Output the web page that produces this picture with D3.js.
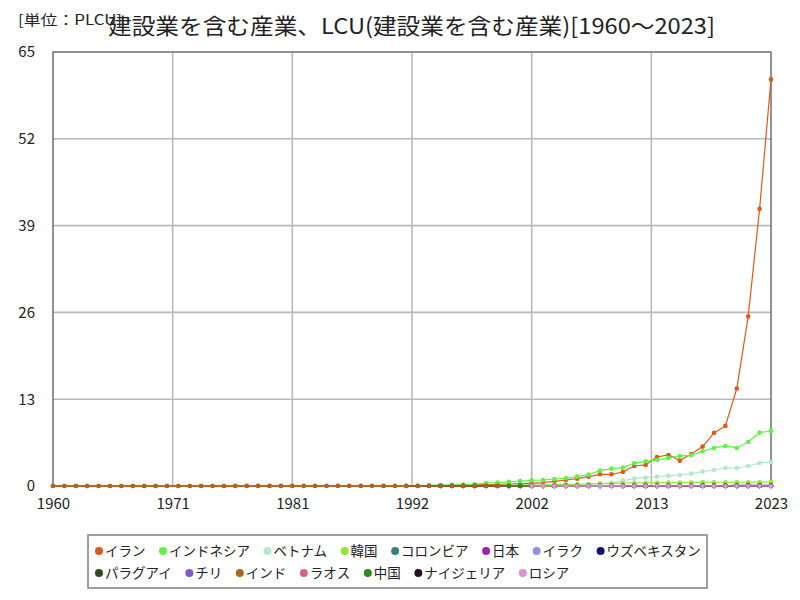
<!DOCTYPE html>
<html>
<head>
<meta charset="utf-8">
<script src="https://cdn.jsdelivr.net/npm/d3@7"></script>
<style>
  body { margin: 0; background: #fff; }
  svg text { font-family: "Noto Sans CJK JP", "Noto Sans", sans-serif; }
</style>
</head>
<body>
<svg id="chart"></svg>
<script>
const d3 = window.d3

// chart data
const countries = ['イラン', 'インドネシア', 'ベトナム', '韓国', 'コロンビア', '日本', 'イラク', 'ウズベキスタン',
  'パラグアイ', 'チリ', 'インド', 'ラオス', '中国', 'ナイジェリア', 'ロシア']
const colors = ['#e0581c', '#5cf542', '#b4e8c8', '#8ee832', '#3c7c7c', '#a020b0', '#9090e0', '#14146e',
  '#2d4a1e', '#7a5ad0', '#b0661a', '#d06a7a', '#2a8a1e', '#2a0a2a', '#e090d8']
const startYears = [1960, 1993, 2000, 1994, 1994, 1994, 2004, 2000, 1991, 2003, 1960, 2000, 2000, 2010, 2002]

const iran = [0.001, 0.001, 0.001, 0.001, 0.001, 0.001, 0.002, 0.002, 0.002, 0.002,
  0.003, 0.003, 0.004, 0.005, 0.008, 0.011, 0.014, 0.017, 0.016, 0.014,
  0.015, 0.017, 0.02, 0.024, 0.026, 0.027, 0.028, 0.031, 0.033, 0.038,
  0.02, 0.03, 0.04, 0.05, 0.07, 0.1, 0.13, 0.17, 0.2, 0.25,
  0.3, 0.35, 0.4, 0.5, 0.7, 0.9, 1.1, 1.4, 1.75, 1.75,
  2.1, 3.0, 3.15, 4.35, 4.65, 3.8, 4.8, 5.9, 7.95, 9.0,
  14.6, 25.4, 41.5, 60.9]
const indonesia = [0.12, 0.14, 0.17, 0.2, 0.25, 0.45, 0.5, 0.62, 0.75, 0.85,
  0.9, 1.05, 1.15, 1.4, 1.7, 2.3, 2.6, 2.75, 3.4, 3.7,
  3.9, 4.2, 4.5, 4.6, 5.2, 5.7, 6.0, 5.7, 6.6, 8.0, 8.25]
const vietnam = [0.08, 0.09, 0.1, 0.12, 0.14, 0.17, 0.2, 0.25, 0.35, 0.45,
  0.8, 1.1, 1.25, 1.4, 1.55, 1.65, 1.85, 2.15, 2.4, 2.7,
  2.7, 3.0, 3.45, 3.6]
const korea = [0.04, 0.05, 0.06, 0.07, 0.08, 0.09, 0.1, 0.12, 0.14, 0.17,
  0.2, 0.23, 0.26, 0.3, 0.35, 0.38, 0.42, 0.45, 0.47, 0.48,
  0.5, 0.52, 0.53, 0.55, 0.56, 0.56, 0.55, 0.56, 0.57, 0.58]
const colombia = [0.01, 0.01, 0.01, 0.01, 0.01, 0.01, 0.01, 0.02, 0.02, 0.02,
  0.02, 0.02, 0.02, 0.02, 0.03, 0.03, 0.03, 0.03, 0.03, 0.03,
  0.03, 0.04, 0.04, 0.04, 0.04, 0.04, 0.04, 0.05, 0.05, 0.05]
const japan = [0.02, 0.02, 0.02, 0.02, 0.02, 0.02, 0.02, 0.02, 0.02, 0.02,
  0.02, 0.02, 0.02, 0.02, 0.02, 0.02, 0.02, 0.02, 0.02, 0.02,
  0.02, 0.02, 0.02, 0.02, 0.02, 0.02, 0.02, 0.02, 0.02, 0.02]
const iraq = [0.01, 0.01, 0.02, 0.02, 0.02, 0.03, 0.03, 0.03, 0.04, 0.04,
  0.04, 0.05, 0.05, 0.05, 0.05, 0.06, 0.06, 0.06, 0.07, 0.07]
const uzbekistan = [0.001, 0.001, 0.002, 0.002, 0.003, 0.004, 0.005, 0.006, 0.008, 0.01,
  0.012, 0.015, 0.018, 0.022, 0.027, 0.033, 0.04, 0.05, 0.06, 0.07,
  0.08, 0.09, 0.1, 0.11]
const paraguay = [0.01, 0.01, 0.01, 0.01, 0.01, 0.01, 0.01, 0.01, 0.01, 0.01,
  0.01, 0.01, 0.01, 0.01, 0.01, 0.01, 0.01, 0.01, 0.02, 0.02,
  0.02, 0.02, 0.02, 0.02, 0.02, 0.02, 0.02, 0.02, 0.02, 0.02,
  0.02, 0.02, 0.02]
const chile = [0.01, 0.01, 0.01, 0.01, 0.01, 0.01, 0.01, 0.01, 0.01, 0.01,
  0.01, 0.01, 0.01, 0.01, 0.01, 0.01, 0.01, 0.01, 0.01, 0.01, 0.01]
const india = [0.01, 0.01, 0.01, 0.01, 0.01, 0.01, 0.01, 0.01, 0.01, 0.01,
  0.01, 0.01, 0.01, 0.01, 0.01, 0.01, 0.01, 0.01, 0.01, 0.01,
  0.01, 0.01, 0.01, 0.01, 0.01, 0.01, 0.01, 0.01, 0.01, 0.01,
  0.01, 0.01, 0.01, 0.01, 0.01, 0.01, 0.01, 0.01, 0.01, 0.01,
  0.01, 0.01, 0.01, 0.01, 0.01, 0.01, 0.01, 0.02, 0.02, 0.02,
  0.02, 0.02, 0.02, 0.02, 0.02, 0.02, 0.02, 0.02, 0.02, 0.02,
  0.02, 0.02, 0.02, 0.02]
const laos = [0.01, 0.01, 0.01, 0.01, 0.01, 0.01, 0.01, 0.01, 0.01, 0.01,
  0.01, 0.01, 0.01, 0.01, 0.01, 0.01, 0.01, 0.01, 0.01, 0.01,
  0.01, 0.01, 0.02, 0.02]
const china = [0.01, 0.01, 0.01, 0.01, 0.01, 0.01, 0.01, 0.01, 0.01, 0.01,
  0.01, 0.01, 0.01, 0.01, 0.01, 0.01, 0.01, 0.01, 0.01, 0.01,
  0.01, 0.01, 0.01, 0.01]
const nigeria = [0.01, 0.01, 0.01, 0.01, 0.01, 0.01, 0.01, 0.01, 0.01, 0.01,
  0.01, 0.01, 0.01, 0.01]
const russia = [0.01, 0.01, 0.01, 0.01, 0.01, 0.01, 0.01, 0.01, 0.01, 0.01,
  0.01, 0.01, 0.01, 0.01, 0.01, 0.01, 0.01, 0.01, 0.01, 0.01,
  0.01, 0.01]
const seriesValues = [iran, indonesia, vietnam, korea, colombia, japan, iraq, uzbekistan,
  paraguay, chile, india, laos, china, nigeria, russia]

const yTicks = [0, 13, 26, 39, 52, 65]
const xTickLabels = ['1960', '1971', '1981', '1992', '2002', '2013', '2023']
const titleText = '建設業を含む産業、LCU(建設業を含む産業)[1960～2023]'
const unitText = '[単位：PLCU]'

const width = 800
const height = 600
const margin = {top: 52, right: 29, bottom: 114, left: 53}

const svg = d3.select('#chart').attr('width', width).attr('height', height)

const x = d3.scaleLinear().domain([1960, 2023]).range([margin.left, width - margin.right])
const y = d3.scaleLinear().domain([0, 65]).range([height - margin.bottom, margin.top])

// x ticks are evenly spaced along the axis, labels rounded to a year
const xTickPos = xTickLabels.map((d, i) => 1960 + i * (63 / (xTickLabels.length - 1)))

// grid
svg.append('g')
  .selectAll('line.h')
  .data(yTicks.slice(1, -1))
  .join('line')
  .attr('x1', margin.left).attr('x2', width - margin.right)
  .attr('y1', d => y(d)).attr('y2', d => y(d))
  .attr('stroke', '#b9b9b9').attr('stroke-width', 1.6)

svg.append('g')
  .selectAll('line.v')
  .data(xTickPos.slice(1, -1))
  .join('line')
  .attr('y1', margin.top).attr('y2', height - margin.bottom)
  .attr('x1', d => x(d)).attr('x2', d => x(d))
  .attr('stroke', '#b9b9b9').attr('stroke-width', 1.6)

// frame
svg.append('rect')
  .attr('x', margin.left).attr('y', margin.top)
  .attr('width', width - margin.left - margin.right)
  .attr('height', height - margin.top - margin.bottom)
  .attr('fill', 'none').attr('stroke', '#777').attr('stroke-width', 1.6)

// axes labels
const yAxis = d3.axisLeft(y).tickValues(yTicks).tickSize(0).tickPadding(18)
svg.append('g').attr('transform', `translate(${margin.left},0)`).call(yAxis)
  .call(g => g.select('.domain').remove())
  .call(g => g.selectAll('text').attr('font-size', 15).attr('fill', '#222')
    .style('font-family', '"Noto Sans CJK JP", sans-serif'))

const xAxis = d3.axisBottom(x).tickValues(xTickPos).tickSize(0).tickPadding(12)
  .tickFormat((d, i) => xTickLabels[i])
svg.append('g').attr('transform', `translate(0,${height - margin.bottom})`).call(xAxis)
  .call(g => g.select('.domain').remove())
  .call(g => g.selectAll('text').attr('font-size', 15).attr('fill', '#222')
    .style('font-family', '"Noto Sans CJK JP", sans-serif'))

// lines and markers
const line = d3.line().x(d => x(d.year)).y(d => y(d.value))
countries.forEach((name, i) => {
  const pts = seriesValues[i].map((v, j) => ({year: startYears[i] + j, value: v}))
  const g = svg.append('g')
  g.append('path').datum(pts)
    .attr('d', line).attr('fill', 'none')
    .attr('stroke', colors[i]).attr('stroke-width', 1.2)
  g.selectAll('circle').data(pts).join('circle')
    .attr('cx', d => x(d.year)).attr('cy', d => y(d.value))
    .attr('r', 2.3).attr('fill', colors[i])
})

// title
svg.append('text').attr('x', 18).attr('y', 25)
  .attr('font-size', 14).attr('fill', '#222')
  .attr('textLength', 104).attr('lengthAdjust', 'spacingAndGlyphs')
  .text(unitText)
svg.append('text').attr('x', 108).attr('y', 34)
  .attr('font-size', 22).attr('fill', '#222')
  .attr('textLength', 607).attr('lengthAdjust', 'spacingAndGlyphs')
  .text(titleText)

// legend
const legend = svg.append('g')
const box = {x: 88, y: 535, w: 619, h: 53}
legend.append('rect').attr('x', box.x).attr('y', box.y)
  .attr('width', box.w).attr('height', box.h)
  .attr('fill', '#fff').attr('stroke', '#888').attr('stroke-width', 1.6)
let lx = box.x + 7
let ly = box.y + 16
countries.forEach((name, i) => {
  const item = legend.append('g')
  const t = item.append('text').attr('x', 10).attr('y', 5)
    .attr('font-size', 13.5).attr('fill', '#222').text(name)
  const w = t.node().getComputedTextLength() + 10
  if (lx + w > box.x + box.w) {
    lx = box.x + 7
    ly += 22
  }
  item.attr('transform', `translate(${lx},${ly})`)
  item.append('circle').attr('cx', 4).attr('cy', 0).attr('r', 4).attr('fill', colors[i])
  lx += w + 13.5
})
</script>
</body>
</html>
